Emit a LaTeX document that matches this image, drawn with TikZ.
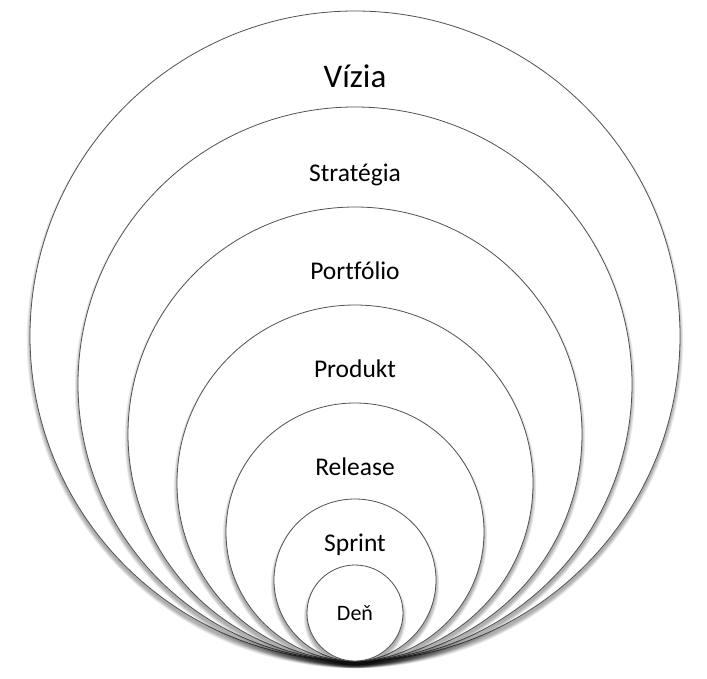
\documentclass[tikz,border=0pt]{standalone}
\usepackage{fontspec}
\setmainfont[Ligatures=NoCommon]{Carlito}
\tikzset{
  ring/.style={draw=black!68, line width=0.8pt, fill=white},
  lbl/.style={anchor=base, inner sep=0pt, text=black},
}
\newcommand{\shadowring}[2]{% center y, radius
  \foreach \k in {0,1,2,3,4}{
    \fill[black, opacity=0.07] (355pt,{-(#1)*1pt-4pt}) circle[radius={#2*1pt+\k*0.8pt}];
  }
  \draw[ring] (355pt,{-(#1)*1pt}) circle[radius={#2*1pt}];
}
\begin{document}
\begin{tikzpicture}
\fill[white] (0pt,0pt) rectangle (707pt,-678pt);
\useasboundingbox (0pt,0pt) rectangle (707pt,-678pt);
\shadowring{336}{325}
\shadowring{384}{277}
\shadowring{434}{227}
\shadowring{483}{178}
\shadowring{532}{129}
\shadowring{580}{81}
\shadowring{613}{48}
\node[lbl, font=\fontsize{33}{40}\selectfont] (vizia) at (355pt,-87pt) {Vízia};
\node[lbl, font=\fontsize{25.5}{30}\selectfont] (strategia) at (355pt,-181pt) {Stratégia};
\node[lbl, font=\fontsize{25.5}{30}\selectfont] (portfolio) at (355pt,-279pt) {Portfólio};
\node[lbl, font=\fontsize{25.5}{30}\selectfont] (produkt) at (355pt,-377pt) {Produkt};
\node[lbl, font=\fontsize{25.5}{30}\selectfont] (release) at (355pt,-475pt) {Release};
\node[lbl, font=\fontsize{25.5}{30}\selectfont] (sprint) at (355pt,-551pt) {Sprint};
\node[lbl, font=\fontsize{22}{26}\selectfont] (den) at (355pt,-620pt) {Deň};
\end{tikzpicture}
\end{document}
